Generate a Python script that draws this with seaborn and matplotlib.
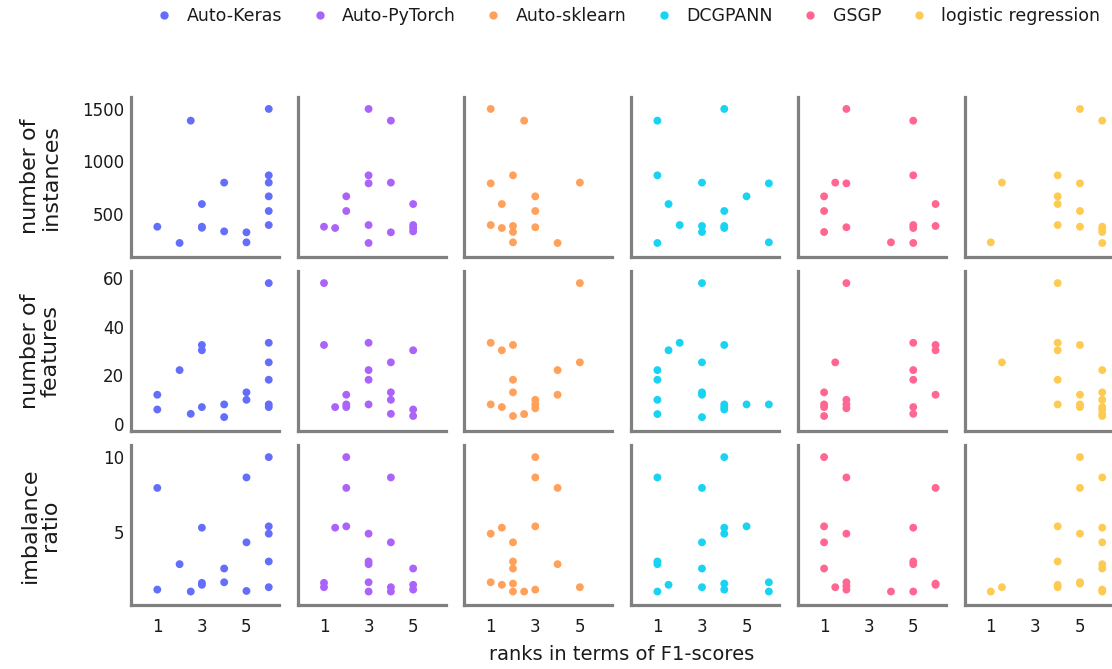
import matplotlib
matplotlib.use("Agg")
import matplotlib.pyplot as plt
import matplotlib.lines as mlines
import pandas as pd
import seaborn as sns

methods = ["Auto-Keras", "Auto-PyTorch", "Auto-sklearn", "DCGPANN", "GSGP", "logistic regression"]
colors = ["#636EFA", "#AB63FA", "#FFA15A", "#19D3F3", "#FF6692", "#FECB52"]

# number of instances: rank -> value, per method
inst_ranks = {
    "Auto-Keras": [1, 2, 2.5, 3, 3, 3, 4, 4, 5, 5, 6, 6, 6, 6, 6, 6],
    "Auto-PyTorch": [1, 1.5, 2, 2, 3, 3, 3, 3, 3, 4, 4, 4, 5, 5, 5, 5],
    "Auto-sklearn": [1, 1, 1, 1.5, 1.5, 2, 2, 2, 2, 2.5, 3, 3, 3, 4, 5],
    "DCGPANN": [1, 1, 1, 1.5, 2, 3, 3, 3, 4, 4, 4, 4, 5, 6, 6],
    "GSGP": [1, 1, 1, 1.5, 2, 2, 2, 4, 5, 5, 5, 5, 5, 6, 6],
    "logistic regression": [1, 1.5, 4, 4, 4, 4, 5, 5, 5, 5, 6, 6, 6, 6, 6],
}
inst_vals = {
    "Auto-Keras": [380, 226, 1385, 595, 380, 370, 798, 336, 327, 232, 1496, 867, 798, 668, 529, 396],
    "Auto-PyTorch": [380, 368, 668, 529, 1496, 867, 791, 396, 226, 1385, 798, 327, 595, 396, 368, 336],
    "Auto-sklearn": [1496, 791, 396, 595, 368, 867, 387, 330, 232, 1385, 668, 529, 375, 226, 798],
    "DCGPANN": [1385, 867, 226, 595, 396, 798, 387, 330, 1496, 529, 387, 368, 668, 791, 232],
    "GSGP": [668, 529, 330, 798, 1496, 791, 375, 232, 1385, 867, 396, 368, 226, 595, 387],
    "logistic regression": [232, 798, 867, 668, 595, 396, 1496, 791, 529, 380, 1385, 380, 355, 330, 226],
}

# number of features
feat_ranks = {
    "Auto-Keras": [1, 1, 2, 2.5, 3, 3, 3, 4, 4, 5, 5, 6, 6, 6, 6, 6, 6],
    "Auto-PyTorch": [1, 1, 1.5, 2, 2, 2, 3, 3, 3, 3, 4, 4, 4, 4, 5, 5, 5],
    "Auto-sklearn": [1, 1, 1.5, 1.5, 2, 2, 2, 2, 2.5, 3, 3, 3, 4, 4, 5, 5],
    "DCGPANN": [1, 1, 1, 1, 1.5, 2, 3, 3, 3, 3, 3, 4, 4, 4, 4, 5, 6],
    "GSGP": [1, 1, 1, 1, 1.5, 2, 2, 2, 2, 5, 5, 5, 5, 5, 6, 6, 6],
    "logistic regression": [1.5, 4, 4, 4, 4, 4, 5, 5, 5, 5, 6, 6, 6, 6, 6, 6, 6],
}
feat_vals = {
    "Auto-Keras": [11.9, 5.8, 22.1, 4.0, 32.5, 30.3, 6.8, 7.9, 2.65, 12.9, 9.8, 58.1, 33.4, 25.3, 18.1, 7.9, 6.8],
    "Auto-PyTorch": [58.1, 32.5, 6.8, 11.9, 7.9, 6.8, 33.4, 22.1, 18.1, 7.9, 25.3, 12.9, 9.8, 4.0, 30.3, 5.8, 3.1],
    "Auto-sklearn": [33.4, 7.9, 30.3, 6.8, 32.5, 18.1, 12.9, 3.1, 3.9, 9.8, 7.9, 6.3, 22.1, 11.9, 58.1, 25.3],
    "DCGPANN": [22.1, 18.1, 9.8, 3.9, 30.3, 33.4, 58.1, 25.3, 12.9, 11.9, 2.65, 32.5, 7.9, 6.8, 5.8, 7.9, 7.9],
    "GSGP": [12.9, 7.9, 6.8, 3.1, 25.3, 58.1, 9.8, 7.9, 6.3, 33.4, 22.1, 18.1, 6.8, 4.0, 32.5, 30.3, 11.9],
    "logistic regression": [25.3, 58.1, 33.4, 30.3, 18.1, 7.9, 32.5, 11.9, 7.9, 6.8, 22.1, 12.9, 9.8, 6.8, 5.8, 4.0, 3.1],
}

# imbalance ratio
imb_ranks = {
    "Auto-Keras": [1, 1, 2, 2.5, 3, 3, 3, 4, 4, 5, 5, 5, 6, 6, 6, 6, 6],
    "Auto-PyTorch": [1, 1, 1.5, 2, 2, 2, 3, 3, 3, 3, 3, 4, 4, 4, 4, 5, 5, 5],
    "Auto-sklearn": [1, 1, 1.5, 1.5, 2, 2, 2, 2, 2, 2.5, 3, 3, 3, 3, 4, 4, 5],
    "DCGPANN": [1, 1, 1, 1, 1.5, 3, 3, 3, 3, 4, 4, 4, 4, 4, 5, 6, 6],
    "GSGP": [1, 1, 1, 1, 1.5, 2, 2, 2, 2, 2, 4, 5, 5, 5, 5, 6, 6, 6],
    "logistic regression": [1, 1.5, 4, 4, 4, 4, 5, 5, 5, 5, 5, 6, 6, 6, 6, 6, 6, 6],
}
imb_vals = {
    "Auto-Keras": [7.96, 1.16, 2.86, 1.03, 5.3, 1.61, 1.48, 2.57, 1.65, 8.66, 4.32, 1.07, 10.02, 5.39, 4.9, 3.04, 1.32],
    "Auto-PyTorch": [1.61, 1.32, 5.3, 10.02, 7.96, 5.39, 4.9, 3.04, 2.86, 1.65, 1.03, 8.66, 4.32, 1.32, 1.03, 2.57, 1.48, 1.16],
    "Auto-sklearn": [4.9, 1.65, 5.3, 1.48, 4.32, 3.04, 2.57, 1.56, 1.03, 1.03, 10.02, 8.66, 5.39, 1.16, 7.96, 2.86, 1.32],
    "DCGPANN": [8.66, 3.04, 2.86, 1.03, 1.48, 7.96, 4.32, 2.57, 1.32, 10.02, 5.3, 4.9, 1.56, 1.16, 5.39, 1.65, 1.03],
    "GSGP": [10.02, 5.39, 4.32, 2.57, 1.32, 8.66, 4.9, 1.65, 1.4, 1.16, 1.03, 5.3, 3.04, 2.86, 1.03, 7.96, 1.56, 1.48],
    "logistic regression": [1.03, 1.32, 5.39, 3.04, 1.48, 1.32, 10.02, 7.96, 4.9, 1.65, 1.56, 8.66, 5.3, 4.32, 2.86, 2.57, 1.16, 1.03],
}

metrics = ["instances", "features", "imbalance"]
row_labels = ["number of\ninstances", "number of\nfeatures", "imbalance\nratio"]
row_ticks = [[500, 1000, 1500], [0, 20, 40, 60], [5, 10]]
row_lims = [(96, 1612), (-3.1, 63.1), (0.13, 10.83)]

records = []
for metric, ranks, vals in zip(metrics, [inst_ranks, feat_ranks, imb_ranks], [inst_vals, feat_vals, imb_vals]):
    for m in methods:
        for r, v in zip(ranks[m], vals[m]):
            records.append({"metric": metric, "method": m, "rank": r, "value": v})
df = pd.DataFrame(records)

sns.set_style("white")
plt.rcParams["font.family"] = ["DejaVu Sans"]

g = sns.relplot(
    data=df, x="rank", y="value",
    row="metric", col="method", hue="method",
    row_order=metrics, col_order=methods,
    palette=dict(zip(methods, colors)),
    kind="scatter", s=32, linewidth=0, alpha=1, legend=False,
    facet_kws=dict(sharex=True, sharey="row"),
    height=2, aspect=1,
)
fig = g.figure
fig.set_size_inches(11.12, 6.69)
g.set_titles("")
g.set_axis_labels("", "")

W, H = 1112, 669
row_tops = [96.7, 271, 445]
for i in range(3):
    for j in range(6):
        ax = g.axes[i, j]
        left = 131 + 166.7 * j
        ax.set_position([left / W, 1 - (row_tops[i] + 160) / H, 148 / W, 160 / H])
        ax.set_xlim(-0.18, 6.46)
        ax.set_ylim(*row_lims[i])
        ax.set_xticks([1, 3, 5])
        ax.set_yticks(row_ticks[i])
        for side in ["top", "right"]:
            ax.spines[side].set_visible(False)
        for side in ["left", "bottom"]:
            ax.spines[side].set_visible(True)
            ax.spines[side].set_color("#808080")
            ax.spines[side].set_linewidth(2.3)
        ax.tick_params(axis="both", length=0, labelsize=12, colors="#1a1a1a")
        ax.tick_params(axis="y", pad=5)
        ax.tick_params(axis="x", pad=9)
        ax.tick_params(axis="y", labelleft=(j == 0))
        ax.tick_params(axis="x", labelbottom=(i == 2))
        ax.grid(False)

for i, lab in enumerate(row_labels):
    fig.text(40 / W, 1 - (row_tops[i] + 80) / H, lab, rotation=90, ha="center", va="center",
             multialignment="center", fontsize=16, color="#1a1a1a", linespacing=1.05)

fig.text(622 / W, 1 - 655 / H, "ranks in terms of F1-scores", ha="center", va="center",
         fontsize=14, color="#1a1a1a")

handles = [mlines.Line2D([], [], marker="o", linestyle="", color=c, markersize=5, label=m)
           for m, c in zip(methods, colors)]
fig.legend(handles=handles, loc="center", bbox_to_anchor=(628 / W, 1 - 16 / H), ncol=6,
           frameon=False, fontsize=12.5, handletextpad=0.8, columnspacing=1.65, handlelength=1.0,
           labelcolor="#1a1a1a")

fig.savefig("out.png", dpi=100)
